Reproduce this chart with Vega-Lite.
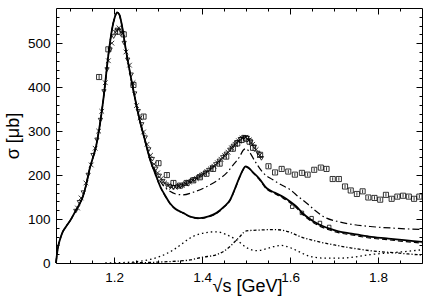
{
"$schema": "https://vega.github.io/schema/vega-lite/v6.json",
"width": 366, "height": 255,
"autosize": "none",
"padding": {"left": 56, "top": 8, "right": 14, "bottom": 41},
"config": {
  "font": "Liberation Sans",
  "view": {"stroke": "black", "strokeWidth": 1},
  "axis": {"grid": false, "domain": false, "tickColor": "black", "labelColor": "black", "titleColor": "black", "labelFont": "Liberation Sans", "titleFont": "Liberation Sans", "labelFontSize": 13.5, "titleFontSize": 18, "titleFontWeight": "normal", "tickWidth": 1}
},
"datasets": {
  "curves": [
    {"c":"solid","s":1.068,"v":0},{"c":"solid","s":1.070,"v":18},{"c":"solid","s":1.073,"v":38},{"c":"solid","s":1.077,"v":53},{"c":"solid","s":1.083,"v":70},{"c":"solid","s":1.091,"v":83},{"c":"solid","s":1.100,"v":96},{"c":"solid","s":1.114,"v":121},{"c":"solid","s":1.122,"v":135},{"c":"solid","s":1.129,"v":151},{"c":"solid","s":1.137,"v":180},{"c":"solid","s":1.144,"v":212},{"c":"solid","s":1.152,"v":240},{"c":"solid","s":1.159,"v":265},{"c":"solid","s":1.167,"v":310},{"c":"solid","s":1.176,"v":375},{"c":"solid","s":1.187,"v":473},{"c":"solid","s":1.196,"v":535},{"c":"solid","s":1.202,"v":560},{"c":"solid","s":1.207,"v":570},{"c":"solid","s":1.212,"v":565},{"c":"solid","s":1.218,"v":540},{"c":"solid","s":1.225,"v":496},{"c":"solid","s":1.240,"v":413},{"c":"solid","s":1.259,"v":322},{"c":"solid","s":1.270,"v":280},{"c":"solid","s":1.282,"v":235},{"c":"solid","s":1.295,"v":200},{"c":"solid","s":1.305,"v":174},{"c":"solid","s":1.317,"v":152},{"c":"solid","s":1.327,"v":136},{"c":"solid","s":1.340,"v":123},{"c":"solid","s":1.357,"v":114},{"c":"solid","s":1.375,"v":105},{"c":"solid","s":1.395,"v":102},{"c":"solid","s":1.415,"v":106},{"c":"solid","s":1.433,"v":114},{"c":"solid","s":1.450,"v":128},{"c":"solid","s":1.464,"v":144},{"c":"solid","s":1.476,"v":172},{"c":"solid","s":1.486,"v":197},{"c":"solid","s":1.494,"v":214},{"c":"solid","s":1.499,"v":220},{"c":"solid","s":1.505,"v":217},{"c":"solid","s":1.517,"v":205},{"c":"solid","s":1.530,"v":192},{"c":"solid","s":1.547,"v":170},{"c":"solid","s":1.565,"v":160},{"c":"solid","s":1.585,"v":150},{"c":"solid","s":1.600,"v":140},{"c":"solid","s":1.615,"v":128},{"c":"solid","s":1.630,"v":112},{"c":"solid","s":1.645,"v":100},{"c":"solid","s":1.665,"v":88},{"c":"solid","s":1.690,"v":78},{"c":"solid","s":1.710,"v":72},{"c":"solid","s":1.740,"v":67},{"c":"solid","s":1.780,"v":60},{"c":"solid","s":1.820,"v":56},{"c":"solid","s":1.860,"v":52},{"c":"solid","s":1.900,"v":48},
    {"c":"dash","s":1.068,"v":0},{"c":"dash","s":1.070,"v":18},{"c":"dash","s":1.073,"v":38},{"c":"dash","s":1.077,"v":53},{"c":"dash","s":1.083,"v":70},{"c":"dash","s":1.091,"v":83},{"c":"dash","s":1.100,"v":96},{"c":"dash","s":1.114,"v":121},{"c":"dash","s":1.122,"v":135},{"c":"dash","s":1.129,"v":151},{"c":"dash","s":1.137,"v":180},{"c":"dash","s":1.144,"v":212},{"c":"dash","s":1.152,"v":240},{"c":"dash","s":1.159,"v":265},{"c":"dash","s":1.167,"v":310},{"c":"dash","s":1.176,"v":375},{"c":"dash","s":1.187,"v":473},{"c":"dash","s":1.196,"v":535},{"c":"dash","s":1.202,"v":560},{"c":"dash","s":1.207,"v":569},{"c":"dash","s":1.212,"v":564},{"c":"dash","s":1.218,"v":539},{"c":"dash","s":1.225,"v":495},{"c":"dash","s":1.240,"v":412},{"c":"dash","s":1.259,"v":321},{"c":"dash","s":1.270,"v":279},{"c":"dash","s":1.282,"v":234},{"c":"dash","s":1.295,"v":199},{"c":"dash","s":1.305,"v":173},{"c":"dash","s":1.317,"v":151},{"c":"dash","s":1.327,"v":135},{"c":"dash","s":1.340,"v":122},{"c":"dash","s":1.357,"v":113},{"c":"dash","s":1.375,"v":104},{"c":"dash","s":1.395,"v":101},{"c":"dash","s":1.415,"v":105},{"c":"dash","s":1.433,"v":113},{"c":"dash","s":1.450,"v":127},{"c":"dash","s":1.464,"v":143},{"c":"dash","s":1.476,"v":171},{"c":"dash","s":1.486,"v":196},{"c":"dash","s":1.494,"v":213},{"c":"dash","s":1.499,"v":219},{"c":"dash","s":1.505,"v":216},{"c":"dash","s":1.517,"v":204},{"c":"dash","s":1.530,"v":190},{"c":"dash","s":1.547,"v":168},{"c":"dash","s":1.565,"v":158},{"c":"dash","s":1.585,"v":147},{"c":"dash","s":1.600,"v":137},{"c":"dash","s":1.615,"v":125},{"c":"dash","s":1.630,"v":109},{"c":"dash","s":1.645,"v":97},{"c":"dash","s":1.665,"v":85},{"c":"dash","s":1.690,"v":75},{"c":"dash","s":1.710,"v":69},{"c":"dash","s":1.740,"v":64},{"c":"dash","s":1.780,"v":57},{"c":"dash","s":1.820,"v":53},{"c":"dash","s":1.860,"v":49},{"c":"dash","s":1.900,"v":45},
    {"c":"dd","s":1.068,"v":0},{"c":"dd","s":1.070,"v":18},{"c":"dd","s":1.073,"v":38},{"c":"dd","s":1.077,"v":53},{"c":"dd","s":1.083,"v":70},{"c":"dd","s":1.091,"v":83},{"c":"dd","s":1.100,"v":96},{"c":"dd","s":1.114,"v":121},{"c":"dd","s":1.122,"v":135},{"c":"dd","s":1.129,"v":151},{"c":"dd","s":1.137,"v":180},{"c":"dd","s":1.144,"v":212},{"c":"dd","s":1.152,"v":240},{"c":"dd","s":1.159,"v":265},{"c":"dd","s":1.167,"v":310},{"c":"dd","s":1.176,"v":375},{"c":"dd","s":1.187,"v":473},{"c":"dd","s":1.196,"v":535},{"c":"dd","s":1.202,"v":560},{"c":"dd","s":1.207,"v":570},{"c":"dd","s":1.212,"v":565},{"c":"dd","s":1.218,"v":540},{"c":"dd","s":1.225,"v":496},{"c":"dd","s":1.240,"v":413},{"c":"dd","s":1.259,"v":323},{"c":"dd","s":1.270,"v":282},{"c":"dd","s":1.282,"v":238},{"c":"dd","s":1.295,"v":206},{"c":"dd","s":1.305,"v":186},{"c":"dd","s":1.317,"v":171},{"c":"dd","s":1.327,"v":163},{"c":"dd","s":1.340,"v":157},{"c":"dd","s":1.357,"v":155},{"c":"dd","s":1.380,"v":161},{"c":"dd","s":1.411,"v":174},{"c":"dd","s":1.435,"v":188},{"c":"dd","s":1.456,"v":205},{"c":"dd","s":1.470,"v":222},{"c":"dd","s":1.486,"v":243},{"c":"dd","s":1.494,"v":257},{"c":"dd","s":1.500,"v":260},{"c":"dd","s":1.508,"v":252},{"c":"dd","s":1.520,"v":232},{"c":"dd","s":1.539,"v":205},{"c":"dd","s":1.560,"v":190},{"c":"dd","s":1.580,"v":178},{"c":"dd","s":1.600,"v":167},{"c":"dd","s":1.620,"v":150},{"c":"dd","s":1.638,"v":136},{"c":"dd","s":1.660,"v":117},{"c":"dd","s":1.683,"v":102},{"c":"dd","s":1.706,"v":95},{"c":"dd","s":1.740,"v":88},{"c":"dd","s":1.782,"v":83},{"c":"dd","s":1.840,"v":79},{"c":"dd","s":1.900,"v":76},
    {"c":"dotA","s":1.180,"v":0},{"c":"dotA","s":1.220,"v":1},{"c":"dotA","s":1.259,"v":4},{"c":"dotA","s":1.285,"v":9},{"c":"dotA","s":1.305,"v":15},{"c":"dotA","s":1.335,"v":30},{"c":"dotA","s":1.355,"v":44},{"c":"dotA","s":1.373,"v":57},{"c":"dotA","s":1.395,"v":66},{"c":"dotA","s":1.415,"v":70},{"c":"dotA","s":1.433,"v":71},{"c":"dotA","s":1.456,"v":64},{"c":"dotA","s":1.479,"v":52},{"c":"dotA","s":1.501,"v":35},{"c":"dotA","s":1.524,"v":28},{"c":"dotA","s":1.545,"v":32},{"c":"dotA","s":1.562,"v":37},{"c":"dotA","s":1.580,"v":40},{"c":"dotA","s":1.600,"v":35},{"c":"dotA","s":1.620,"v":26},{"c":"dotA","s":1.645,"v":15},{"c":"dotA","s":1.680,"v":11},{"c":"dotA","s":1.710,"v":11},{"c":"dotA","s":1.750,"v":14},{"c":"dotA","s":1.782,"v":19},{"c":"dotA","s":1.840,"v":24},{"c":"dotA","s":1.900,"v":30},
    {"c":"dotB","s":1.240,"v":0},{"c":"dotB","s":1.300,"v":2},{"c":"dotB","s":1.340,"v":4},{"c":"dotB","s":1.373,"v":7},{"c":"dotB","s":1.400,"v":13},{"c":"dotB","s":1.433,"v":19},{"c":"dotB","s":1.450,"v":27},{"c":"dotB","s":1.464,"v":38},{"c":"dotB","s":1.476,"v":50},{"c":"dotB","s":1.486,"v":60},{"c":"dotB","s":1.494,"v":69},{"c":"dotB","s":1.501,"v":73},{"c":"dotB","s":1.530,"v":75},{"c":"dotB","s":1.562,"v":76},{"c":"dotB","s":1.580,"v":75},{"c":"dotB","s":1.600,"v":70},{"c":"dotB","s":1.623,"v":60},{"c":"dotB","s":1.650,"v":52},{"c":"dotB","s":1.706,"v":40},{"c":"dotB","s":1.740,"v":34},{"c":"dotB","s":1.782,"v":28},{"c":"dotB","s":1.840,"v":23},{"c":"dotB","s":1.900,"v":18}
  ],
  "pts": [
    {"t":"x","s":1.117,"v":125},{"t":"x","s":1.125,"v":148},{"t":"x","s":1.136,"v":182},{"t":"x","s":1.148,"v":223},{"t":"x","s":1.157,"v":261},{"t":"x","s":1.165,"v":300},{"t":"x","s":1.172,"v":345},{"t":"x","s":1.180,"v":410},{"t":"x","s":1.187,"v":460},{"t":"x","s":1.195,"v":500},{"t":"x","s":1.203,"v":525},{"t":"x","s":1.211,"v":535},{"t":"x","s":1.219,"v":522},{"t":"x","s":1.227,"v":480},{"t":"x","s":1.235,"v":450},{"t":"x","s":1.243,"v":410},{"t":"x","s":1.251,"v":358},{"t":"x","s":1.259,"v":330},{"t":"x","s":1.267,"v":298},{"t":"x","s":1.275,"v":270},{"t":"x","s":1.283,"v":245},{"t":"x","s":1.291,"v":225},{"t":"x","s":1.299,"v":205},{"t":"x","s":1.307,"v":192},{"t":"x","s":1.315,"v":182},{"t":"x","s":1.323,"v":176},{"t":"x","s":1.331,"v":172},{"t":"x","s":1.339,"v":172},{"t":"x","s":1.347,"v":174},{"t":"x","s":1.355,"v":176},{"t":"x","s":1.363,"v":180},{"t":"x","s":1.371,"v":184},{"t":"x","s":1.379,"v":188},{"t":"x","s":1.387,"v":192},{"t":"x","s":1.395,"v":197},{"t":"x","s":1.403,"v":202},{"t":"x","s":1.411,"v":208},{"t":"x","s":1.419,"v":214},{"t":"x","s":1.427,"v":220},{"t":"x","s":1.435,"v":228},{"t":"x","s":1.443,"v":236},{"t":"x","s":1.451,"v":244},{"t":"x","s":1.459,"v":252},{"t":"x","s":1.467,"v":262},{"t":"x","s":1.475,"v":270},{"t":"x","s":1.483,"v":278},{"t":"x","s":1.491,"v":284},{"t":"x","s":1.499,"v":286},{"t":"x","s":1.507,"v":280},{"t":"x","s":1.515,"v":270},{"t":"x","s":1.523,"v":258},{"t":"x","s":1.531,"v":245},
    {"t":"v","s":1.113,"v":118},{"t":"v","s":1.121,"v":138},{"t":"v","s":1.130,"v":160},{"t":"v","s":1.141,"v":200},{"t":"v","s":1.152,"v":245},{"t":"v","s":1.161,"v":280},{"t":"v","s":1.169,"v":325},{"t":"v","s":1.177,"v":390},{"t":"v","s":1.184,"v":440},{"t":"v","s":1.191,"v":485},{"t":"v","s":1.199,"v":515},{"t":"v","s":1.207,"v":530},{"t":"v","s":1.215,"v":528},{"t":"v","s":1.223,"v":500},{"t":"v","s":1.231,"v":462},{"t":"v","s":1.239,"v":428},{"t":"v","s":1.247,"v":385},{"t":"v","s":1.255,"v":345},{"t":"v","s":1.263,"v":315},{"t":"v","s":1.271,"v":285},{"t":"v","s":1.279,"v":258},{"t":"v","s":1.287,"v":236},{"t":"v","s":1.295,"v":214},{"t":"v","s":1.303,"v":198},{"t":"v","s":1.311,"v":186},{"t":"v","s":1.319,"v":178},{"t":"v","s":1.327,"v":174},{"t":"v","s":1.335,"v":172},{"t":"v","s":1.343,"v":173},{"t":"v","s":1.351,"v":175},{"t":"v","s":1.359,"v":178},{"t":"v","s":1.367,"v":182},{"t":"v","s":1.375,"v":186},{"t":"v","s":1.383,"v":190},{"t":"v","s":1.391,"v":194},{"t":"v","s":1.399,"v":200},{"t":"v","s":1.407,"v":205},{"t":"v","s":1.415,"v":211},{"t":"v","s":1.423,"v":217},{"t":"v","s":1.431,"v":224},{"t":"v","s":1.439,"v":232},{"t":"v","s":1.447,"v":240},{"t":"v","s":1.455,"v":248},{"t":"v","s":1.463,"v":257},{"t":"v","s":1.471,"v":266},{"t":"v","s":1.479,"v":274},{"t":"v","s":1.487,"v":281},{"t":"v","s":1.495,"v":286},{"t":"v","s":1.503,"v":284},{"t":"v","s":1.511,"v":275},{"t":"v","s":1.519,"v":264},{"t":"v","s":1.527,"v":250},{"t":"v","s":1.535,"v":238},
    {"t":"s","s":1.166,"v":423,"e":5},{"t":"s","s":1.187,"v":486,"e":5},{"t":"s","s":1.208,"v":526,"e":6},{"t":"s","s":1.222,"v":520,"e":6},{"t":"s","s":1.244,"v":405,"e":5},{"t":"s","s":1.267,"v":333,"e":5},{"t":"s","s":1.301,"v":227,"e":5},{"t":"s","s":1.320,"v":200,"e":5},{"t":"s","s":1.335,"v":182,"e":5},{"t":"s","s":1.350,"v":176,"e":5},{"t":"s","s":1.365,"v":182,"e":5},{"t":"s","s":1.380,"v":188,"e":5},{"t":"s","s":1.395,"v":195,"e":5},{"t":"s","s":1.410,"v":203,"e":5},{"t":"s","s":1.425,"v":214,"e":5},{"t":"s","s":1.440,"v":226,"e":6},{"t":"s","s":1.455,"v":242,"e":6},{"t":"s","s":1.470,"v":260,"e":7},{"t":"s","s":1.480,"v":272,"e":8},{"t":"s","s":1.490,"v":280,"e":8},{"t":"s","s":1.500,"v":283,"e":8},{"t":"s","s":1.508,"v":276,"e":8},{"t":"s","s":1.516,"v":262,"e":7},{"t":"s","s":1.532,"v":246,"e":6},{"t":"s","s":1.551,"v":220,"e":4},{"t":"s","s":1.566,"v":206,"e":4},{"t":"s","s":1.581,"v":214,"e":4},{"t":"s","s":1.596,"v":208,"e":4},{"t":"s","s":1.611,"v":201,"e":4},{"t":"s","s":1.627,"v":205,"e":4},{"t":"s","s":1.640,"v":201,"e":4},{"t":"s","s":1.655,"v":212,"e":4},{"t":"s","s":1.670,"v":217,"e":4},{"t":"s","s":1.683,"v":214,"e":4},{"t":"s","s":1.697,"v":191,"e":4},{"t":"s","s":1.711,"v":191,"e":4},{"t":"s","s":1.725,"v":174,"e":4},{"t":"s","s":1.738,"v":165,"e":4},{"t":"s","s":1.752,"v":157,"e":4},{"t":"s","s":1.765,"v":163,"e":4},{"t":"s","s":1.778,"v":149,"e":4},{"t":"s","s":1.792,"v":148,"e":4},{"t":"s","s":1.805,"v":144,"e":4},{"t":"s","s":1.818,"v":155,"e":4},{"t":"s","s":1.831,"v":146,"e":4},{"t":"s","s":1.844,"v":151,"e":4},{"t":"s","s":1.857,"v":153,"e":4},{"t":"s","s":1.870,"v":151,"e":4},{"t":"s","s":1.882,"v":146,"e":4},{"t":"s","s":1.894,"v":151,"e":4},
    {"t":"q","s":1.605,"v":128},{"t":"q","s":1.627,"v":114},{"t":"q","s":1.649,"v":102},{"t":"q","s":1.668,"v":91},{"t":"q","s":1.689,"v":82}
  ]
},
"resolve": {"scale": {"x": "shared", "y": "shared"}, "axis": {"x": "independent", "y": "independent"}},
"layer": [
  {
    "data": {"name": "curves"},
    "transform": [{"filter": "datum.c == 'solid'"}],
    "mark": {"type": "line", "color": "black", "strokeWidth": 1.8, "interpolate": "monotone"},
    "encoding": {
      "x": {"field": "s", "type": "quantitative", "scale": {"domain": [1.068, 1.9], "nice": false, "zero": false},
        "axis": {"orient": "bottom", "offset": -6, "values": [1.2, 1.4, 1.6, 1.8], "format": ".1f", "tickSize": 6, "labelPadding": 7, "title": "√s [GeV]", "titleBaseline": "alphabetic", "titleY": 34, "titleX": 191}},
      "y": {"field": "v", "type": "quantitative", "scale": {"domain": [0, 580], "nice": false},
        "axis": {"orient": "left", "offset": -6, "values": [0, 100, 200, 300, 400, 500], "tickSize": 6, "labelPadding": 6, "title": "σ [μb]", "titleBaseline": "alphabetic", "titleX": -44}}
    }
  },
  {
    "data": {"name": "curves"},
    "transform": [{"filter": "datum.c == 'dash'"}],
    "mark": {"type": "line", "color": "black", "strokeWidth": 1.2, "strokeDash": [5, 3], "interpolate": "monotone"},
    "encoding": {
      "x": {"field": "s", "type": "quantitative", "scale": {"domain": [1.068, 1.9], "nice": false, "zero": false},
        "axis": {"orient": "bottom", "offset": -3, "values": [1.1, 1.15, 1.25, 1.3, 1.35, 1.45, 1.5, 1.55, 1.65, 1.7, 1.75, 1.85], "tickSize": 3, "labels": false, "title": null}},
      "y": {"field": "v", "type": "quantitative", "scale": {"domain": [0, 580], "nice": false},
        "axis": {"orient": "left", "offset": -3, "values": [20, 40, 60, 80, 120, 140, 160, 180, 220, 240, 260, 280, 320, 340, 360, 380, 420, 440, 460, 480, 520, 540, 560], "tickSize": 3, "labels": false, "title": null}}
    }
  },
  {
    "data": {"name": "curves"},
    "transform": [{"filter": "datum.c == 'dd'"}],
    "mark": {"type": "line", "color": "black", "strokeWidth": 1.2, "strokeDash": [7, 3, 1.5, 3], "interpolate": "monotone"},
    "encoding": {
      "x": {"field": "s", "type": "quantitative", "scale": {"domain": [1.068, 1.9], "nice": false, "zero": false},
        "axis": {"orient": "top", "offset": -6, "values": [1.2, 1.4, 1.6, 1.8], "tickSize": 6, "labels": false, "title": null}},
      "y": {"field": "v", "type": "quantitative", "scale": {"domain": [0, 580], "nice": false},
        "axis": {"orient": "right", "offset": -6, "values": [0, 100, 200, 300, 400, 500], "tickSize": 6, "labels": false, "title": null}}
    }
  },
  {
    "data": {"name": "curves"},
    "transform": [{"filter": "datum.c == 'dotA'"}],
    "mark": {"type": "line", "color": "black", "strokeWidth": 1.3, "strokeDash": [1.5, 3], "interpolate": "monotone"},
    "encoding": {
      "x": {"field": "s", "type": "quantitative", "scale": {"domain": [1.068, 1.9], "nice": false, "zero": false},
        "axis": {"orient": "top", "offset": -3, "values": [1.1, 1.15, 1.25, 1.3, 1.35, 1.45, 1.5, 1.55, 1.65, 1.7, 1.75, 1.85], "tickSize": 3, "labels": false, "title": null}},
      "y": {"field": "v", "type": "quantitative", "scale": {"domain": [0, 580], "nice": false},
        "axis": {"orient": "right", "offset": -3, "values": [20, 40, 60, 80, 120, 140, 160, 180, 220, 240, 260, 280, 320, 340, 360, 380, 420, 440, 460, 480, 520, 540, 560], "tickSize": 3, "labels": false, "title": null}}
    }
  },
  {
    "data": {"name": "curves"},
    "transform": [{"filter": "datum.c == 'dotB'"}],
    "mark": {"type": "line", "color": "black", "strokeWidth": 1.3, "strokeDash": [3, 2, 1.2, 2], "interpolate": "monotone"},
    "encoding": {
      "x": {"field": "s", "type": "quantitative", "axis": null},
      "y": {"field": "v", "type": "quantitative", "axis": null}
    }
  },
  {
    "data": {"name": "pts"},
    "transform": [{"filter": "datum.t == 's'"}],
    "mark": {"type": "errorbar", "color": "black", "thickness": 0.8},
    "encoding": {
      "x": {"field": "s", "type": "quantitative", "axis": null},
      "y": {"field": "v", "type": "quantitative", "axis": null},
      "yError": {"field": "e"}
    }
  },
  {
    "data": {"name": "pts"},
    "transform": [{"filter": "datum.t == 's'"}],
    "mark": {"type": "point", "shape": "square", "filled": false, "color": "black", "size": 26, "strokeWidth": 0.8, "opacity": 1},
    "encoding": {
      "x": {"field": "s", "type": "quantitative", "axis": null},
      "y": {"field": "v", "type": "quantitative", "axis": null}
    }
  },
  {
    "data": {"name": "pts"},
    "transform": [{"filter": "datum.t == 'q'"}],
    "mark": {"type": "point", "shape": "square", "filled": false, "color": "black", "size": 12, "strokeWidth": 0.8, "opacity": 1},
    "encoding": {
      "x": {"field": "s", "type": "quantitative", "axis": null},
      "y": {"field": "v", "type": "quantitative", "axis": null}
    }
  },
  {
    "data": {"name": "pts"},
    "transform": [{"filter": "datum.t == 'x'"}],
    "mark": {"type": "point", "shape": "M-1,-1L1,1M1,-1L-1,1", "filled": false, "color": "black", "size": 22, "strokeWidth": 0.8, "opacity": 1},
    "encoding": {
      "x": {"field": "s", "type": "quantitative", "axis": null},
      "y": {"field": "v", "type": "quantitative", "axis": null}
    }
  },
  {
    "data": {"name": "pts"},
    "transform": [{"filter": "datum.t == 'v'"}],
    "mark": {"type": "point", "shape": "triangle-down", "filled": false, "color": "black", "size": 18, "strokeWidth": 0.8, "opacity": 1},
    "encoding": {
      "x": {"field": "s", "type": "quantitative", "axis": null},
      "y": {"field": "v", "type": "quantitative", "axis": null}
    }
  }
]
}
